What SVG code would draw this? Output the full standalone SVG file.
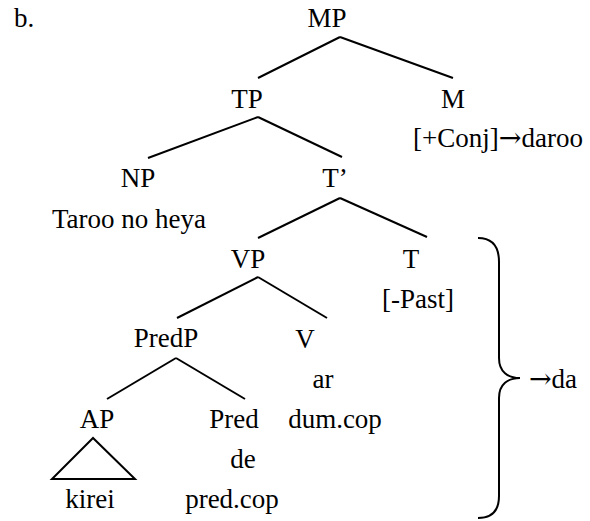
<svg xmlns="http://www.w3.org/2000/svg" width="590" height="521" viewBox="0 0 590 521">
<rect width="590" height="521" fill="#fff"/>
<text x="14" y="27" font-family="Liberation Serif" font-size="27">b.</text>
<g id="connectors" stroke="#000" stroke-width="2" fill="none">
<line x1="340" y1="37" x2="258" y2="78"/>
<line x1="340" y1="37" x2="453" y2="78"/>
<line x1="258" y1="117" x2="148" y2="158"/>
<line x1="258" y1="117" x2="342" y2="157"/>
<line x1="340" y1="198" x2="258" y2="238"/>
<line x1="340" y1="198" x2="427" y2="237"/>
<line x1="258" y1="277" x2="177" y2="318"/>
<line x1="258" y1="277" x2="327" y2="318"/>
<line x1="176" y1="358" x2="107" y2="399"/>
<line x1="176" y1="358" x2="245" y2="399"/>
</g>
<g id="MP"><text x="327" y="27" font-family="Liberation Serif" font-size="27" text-anchor="middle">MP</text></g>
<g id="TP"><text x="247" y="108" font-family="Liberation Serif" font-size="27" text-anchor="middle">TP</text></g>
<g id="M"><text x="453" y="108" font-family="Liberation Serif" font-size="27" text-anchor="middle">M</text><text x="498" y="147" font-family="Liberation Serif" font-size="27" text-anchor="middle">[+Conj]<tspan font-family="DejaVu Serif">→</tspan>daroo</text></g>
<g id="NP"><text x="138" y="187" font-family="Liberation Serif" font-size="27" text-anchor="middle">NP</text><text x="129" y="228" font-family="Liberation Serif" font-size="27" text-anchor="middle">Taroo no heya</text></g>
<g id="Tbar"><text x="335" y="187" font-family="Liberation Serif" font-size="27" text-anchor="middle">T’</text></g>
<g id="VP"><text x="248" y="268" font-family="Liberation Serif" font-size="27" text-anchor="middle">VP</text></g>
<g id="T"><text x="411" y="268" font-family="Liberation Serif" font-size="27" text-anchor="middle">T</text><text x="418" y="308" font-family="Liberation Serif" font-size="27" text-anchor="middle">[-Past]</text></g>
<g id="PredP"><text x="166" y="347" font-family="Liberation Serif" font-size="27" text-anchor="middle">PredP</text></g>
<g id="V"><text x="305" y="348" font-family="Liberation Serif" font-size="27" text-anchor="middle">V</text><text x="323" y="388" font-family="Liberation Serif" font-size="27" text-anchor="middle">ar</text><text x="335" y="428" font-family="Liberation Serif" font-size="27" text-anchor="middle">dum.cop</text></g>
<g id="AP"><text x="97" y="428" font-family="Liberation Serif" font-size="27" text-anchor="middle">AP</text>
<polygon points="93,438 52,479 135,479" stroke="#000" stroke-width="2" fill="none"/>
<text x="90" y="508" font-family="Liberation Serif" font-size="27" text-anchor="middle">kirei</text></g>
<g id="Pred"><text x="234" y="428" font-family="Liberation Serif" font-size="27" text-anchor="middle">Pred</text><text x="243" y="468" font-family="Liberation Serif" font-size="27" text-anchor="middle">de</text><text x="232" y="508" font-family="Liberation Serif" font-size="27" text-anchor="middle">pred.cop</text></g>
<g id="brace">
<path d="M478,238 C492,238 499,246 499,262 L499,358 C499,372 508,378 520,378 C508,378 499,384 499,398 L499,496 C499,511 492,518 478,518" stroke="#000" stroke-width="2" fill="none"/>
<text x="553" y="388" font-family="Liberation Serif" font-size="27" text-anchor="middle"><tspan font-family="DejaVu Serif">→</tspan>da</text>
</g>
</svg>
